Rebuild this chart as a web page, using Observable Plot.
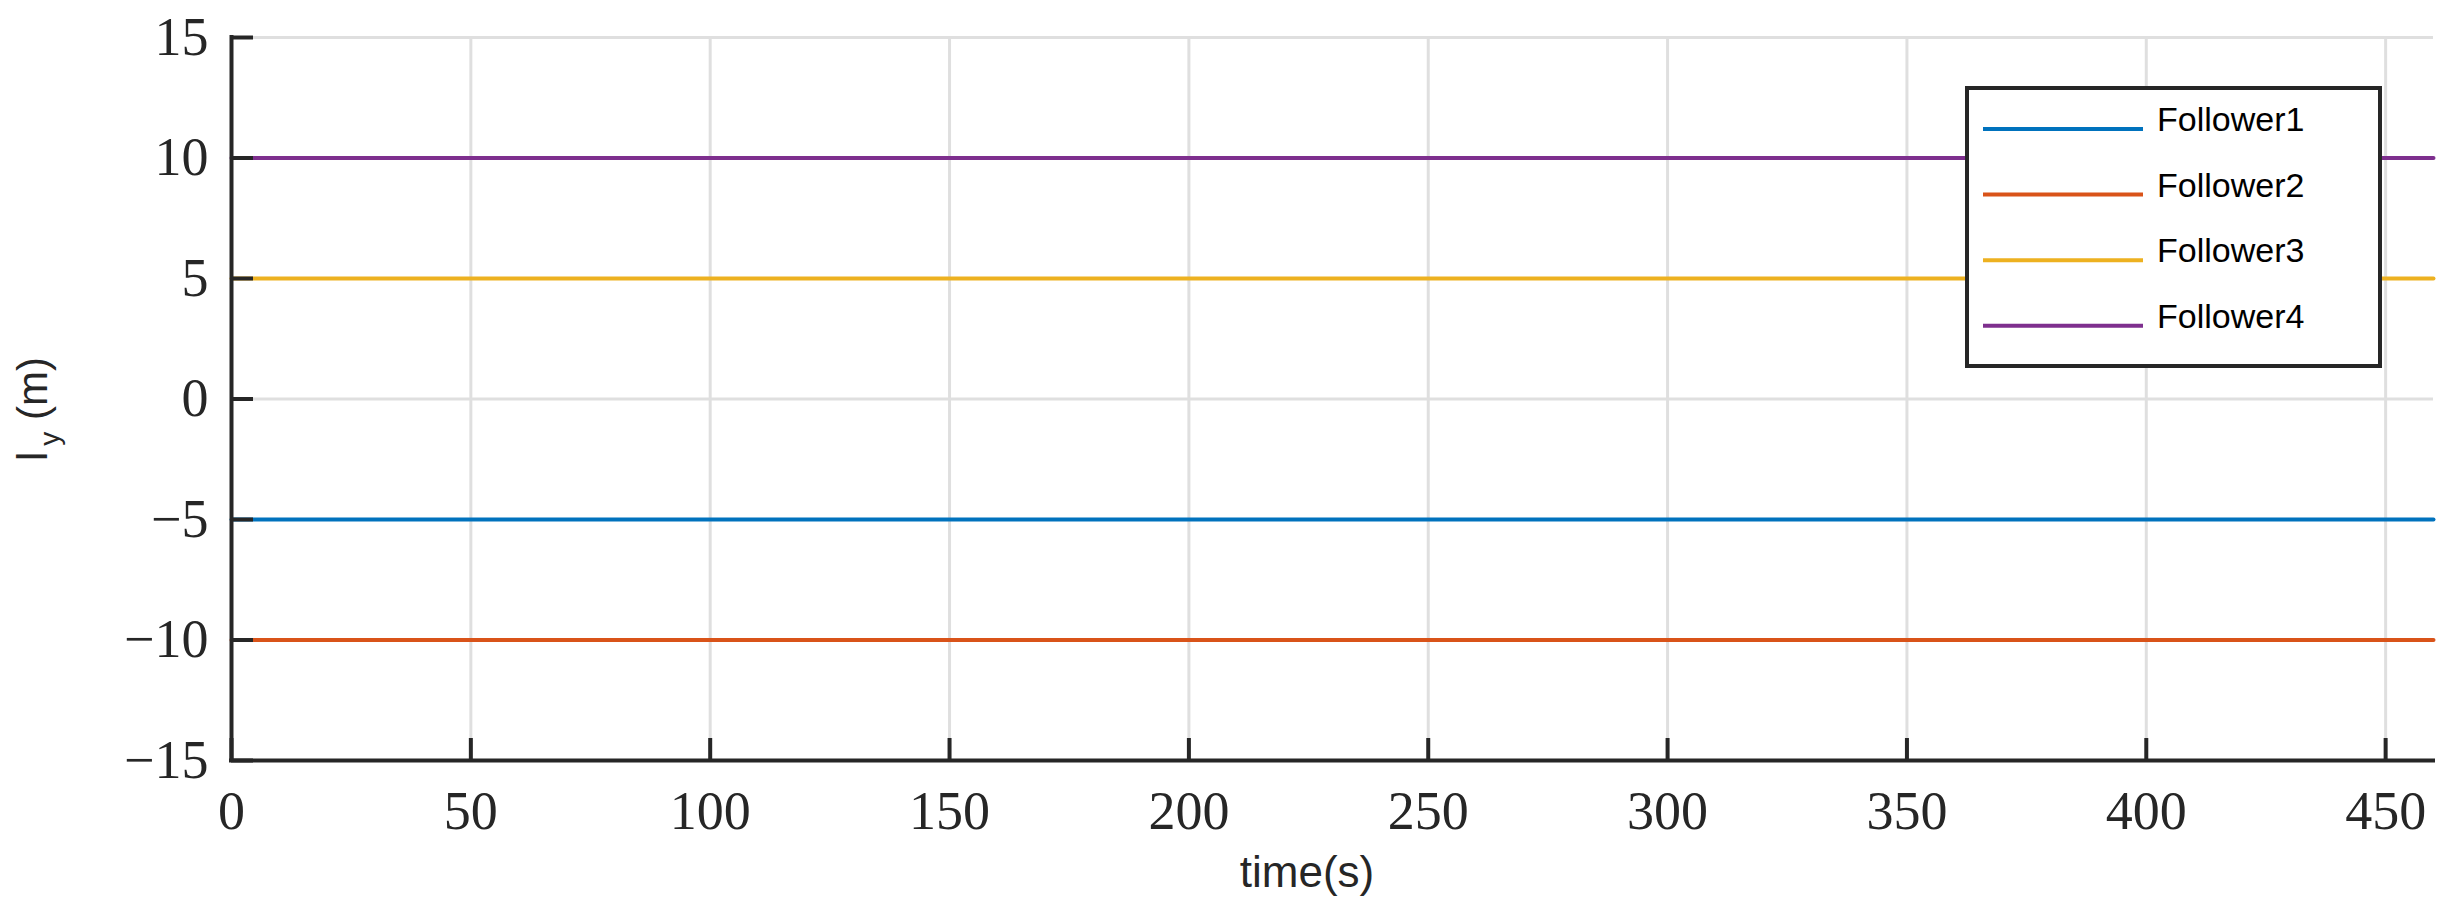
<!DOCTYPE html>
<html><head><meta charset="utf-8">
<script src="https://cdn.jsdelivr.net/npm/d3@7"></script>
<script src="https://cdn.jsdelivr.net/npm/@observablehq/plot@0.6"></script>
<style>body{margin:0;background:#fff}</style>
</head><body><div id="chart"></div>
<script>
const time = [0, 460];
const follower1 = [-5, -5];
const follower2 = [-10, -10];
const follower3 = [5, 5];
const follower4 = [10, 10];
const seriesNames = ["Follower1", "Follower2", "Follower3", "Follower4"];
const seriesColors = ["#0072BD", "#D95319", "#EDB120", "#7E2F8E"];
const xTicks = [0, 50, 100, 150, 200, 250, 300, 350, 400, 450];
const yTicks = [-15, -10, -5, 0, 5, 10, 15];
const xLabel = "time(s)";

const seriesValues = [follower1, follower2, follower3, follower4];
const rows = [];
seriesValues.forEach((vals, i) => vals.forEach((v, j) => rows.push({series: seriesNames[i], t: time[j], v})));

const axisColor = "#262626";
const tickFont = {fontSize: 54, fontFamily: "Liberation Serif", fill: axisColor, label: null};

const svgEl = Plot.plot({
  width: 2449, height: 911,
  marginLeft: 231, marginRight: 16, marginTop: 37, marginBottom: 151,
  style: {background: "white", color: axisColor},
  x: {domain: [0, 460]},
  y: {domain: [-15, 15]},
  color: {domain: seriesNames, range: seriesColors},
  marks: [
    Plot.gridX(xTicks, {stroke: "#dfdfdf", strokeOpacity: 1, strokeWidth: 3}),
    Plot.gridY(yTicks, {stroke: "#dfdfdf", strokeOpacity: 1, strokeWidth: 3}),
    Plot.lineY(rows, {x: "t", y: "v", z: "series", stroke: "series", strokeWidth: 4}),
    Plot.ruleX([0], {stroke: axisColor, strokeWidth: 4, strokeLinecap: "square"}),
    Plot.ruleY([-15], {stroke: axisColor, strokeWidth: 4, strokeLinecap: "square"}),
    Plot.axisX(xTicks, {tickSize: -22, text: null, stroke: axisColor, strokeWidth: 4, label: null}),
    Plot.axisY(yTicks, {tickSize: -22, text: null, stroke: axisColor, strokeWidth: 4, label: null}),
    Plot.axisX(xTicks, {tickSize: 0, tickPadding: 30, ...tickFont}),
    Plot.axisY(yTicks, {tickSize: 0, tickPadding: 23, ...tickFont})
  ]
});
document.getElementById("chart").appendChild(svgEl);

const svg = d3.select(svgEl);
// legend
const lg = svg.append("g").attr("text-anchor", "start");
lg.append("rect").attr("x", 1967).attr("y", 88).attr("width", 413).attr("height", 278)
  .attr("fill", "white").attr("stroke", axisColor).attr("stroke-width", 4);
seriesNames.forEach((name, i) => {
  const y = 129 + 65.6 * i;
  lg.append("line").attr("x1", 1983).attr("x2", 2143).attr("y1", y).attr("y2", y)
    .attr("stroke", seriesColors[i]).attr("stroke-width", 4);
  lg.append("text").attr("x", 2157).attr("y", y + 2).attr("text-anchor", "start")
    .attr("font-family", "Liberation Sans, Arial, sans-serif").attr("font-size", 34)
    .attr("fill", "black").text(name);
});
// x label
svg.append("text").attr("x", 1307).attr("y", 887).attr("text-anchor", "middle")
  .attr("font-family", "Liberation Sans, Arial, sans-serif").attr("font-size", 44)
  .attr("fill", axisColor).text(xLabel);
// y label
const yl = svg.append("text").attr("transform", "translate(47,409) rotate(-90)")
  .attr("text-anchor", "middle")
  .attr("font-family", "Liberation Sans, Arial, sans-serif").attr("font-size", 42)
  .attr("fill", axisColor);
yl.append("tspan").text("l");
yl.append("tspan").attr("font-size", 28).attr("dy", 12).attr("dx", 6).text("y");
yl.append("tspan").attr("dy", -12).text(" (m)");
</script>
</body></html>
